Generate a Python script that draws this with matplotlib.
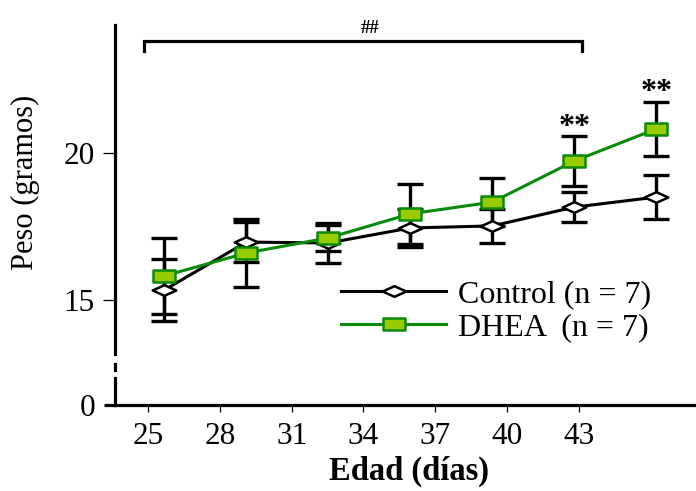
import matplotlib
matplotlib.use('Agg')
import matplotlib.pyplot as plt
from matplotlib.path import Path

plt.rcParams['font.family'] = ['Liberation Serif', 'DejaVu Serif']

# Datos
edad_ticks = [25, 28, 31, 34, 37, 40, 43]
edad_pts = [25.68, 29.11, 32.53, 35.96, 39.39, 42.82, 46.24]
control = [15.34, 16.97, 16.94, 17.45, 17.52, 18.16, 18.50]
control_err = [1.07, 0.68, 0.68, 0.65, 0.58, 0.51, 0.75]
dhea = [15.82, 16.60, 17.11, 17.93, 18.33, 19.73, 20.82]
dhea_err = [1.28, 1.16, 0.45, 1.02, 0.82, 0.85, 0.92]
signif_idx = [5, 6]

W, H = 696, 491
fig = plt.figure(figsize=(W / 100, H / 100), dpi=100)

# eje superior (15-24) y eje inferior (0) con corte
ax = fig.add_axes([115 / W, (H - 354) / H, 581 / W, 329 / H])
axb = fig.add_axes([115 / W, (H - 405) / H, 581 / W, 27 / H])

xlim = (23.62, 47.9)
for a in (ax, axb):
    a.set_xlim(*xlim)
    a.spines['top'].set_visible(False)
    a.spines['right'].set_visible(False)
    a.spines['left'].set_linewidth(2.3)
    a.patch.set_alpha(0)

ax.spines['bottom'].set_visible(False)
ax.set_ylim(13.163, 24.354)
ax.set_yticks([15, 20])
ax.set_yticklabels(['15', '20'])
ax.set_xticks([])
ax.tick_params(axis='y', length=8.5, width=0.9, pad=6, labelsize=22.5)

axb.set_ylim(0, 0.918)
axb.set_yticks([0])
axb.set_yticklabels(['0'])
axb.spines['bottom'].set_linewidth(2.3)
axb.set_xticks(edad_ticks)
axb.set_xticklabels([str(t) for t in edad_ticks])
axb.tick_params(axis='y', length=8, width=2.3, pad=6, labelsize=22.5)
axb.tick_params(axis='x', length=5, width=0.9, pad=7, labelsize=22.5)

# marca de corte del eje
fig.add_artist(plt.Line2D([115 / W, 115 / W], [(H - 364) / H, (H - 370) / H],
                          color='black', lw=2.3))

diamante = Path([(-1, 0), (0, 0.45), (1, 0), (0, -0.45), (-1, 0)],
                [Path.MOVETO, Path.LINETO, Path.LINETO, Path.LINETO, Path.CLOSEPOLY])
cuadro = Path([(-1, -0.55), (1, -0.55), (1, 0.55), (-1, 0.55), (-1, -0.55)],
              [Path.MOVETO, Path.LINETO, Path.LINETO, Path.LINETO, Path.CLOSEPOLY])

ax.errorbar(edad_pts, control, yerr=control_err, fmt='none', ecolor='black',
            elinewidth=2.4, capsize=9.4, capthick=2.4, zorder=1)
ax.errorbar(edad_pts, dhea, yerr=dhea_err, fmt='none', ecolor='black',
            elinewidth=2.4, capsize=9.4, capthick=2.4, zorder=1)

l1, = ax.plot(edad_pts, control, color='black', lw=2.2, marker=diamante,
              markersize=17, markerfacecolor='white', markeredgecolor='black',
              markeredgewidth=1.8, zorder=3)
l2, = ax.plot(edad_pts, dhea, color='#0a8a0a', lw=2.2, marker=cuadro,
              markersize=15.5, markerfacecolor='#99cc00', markeredgecolor='#0a8a0a',
              markeredgewidth=1.8, zorder=4)

for i in signif_idx:
    ax.annotate('**', (edad_pts[i], dhea[i] + dhea_err[i]), xytext=(0, -4),
                textcoords='offset points', ha='center', va='bottom',
                fontsize=23, fontweight='bold')

# corchete ##
ax.plot([24.85, 24.85, 43.15, 43.15], [23.47, 23.81, 23.81, 23.47],
        color='black', lw=2.3, clip_on=False, solid_joinstyle='miter')
ax.text(34.3, 23.95, '##', ha='center', va='bottom', fontsize=13.5,
        fontweight='bold', clip_on=False)

ax.legend([l1, l2], ['Control (n = 7)', 'DHEA  (n = 7)'], loc='upper left',
          bbox_to_anchor=(341 / W, (H - 280) / H), bbox_transform=fig.transFigure,
          frameon=False, fontsize=23, handlelength=3.3, handletextpad=0.35,
          labelspacing=0.12, borderpad=0, borderaxespad=0, numpoints=1)

fig.text(25 / W, 1 - 182 / H, 'Peso (gramos)', rotation=90, ha='center',
         va='center', fontsize=22)
fig.text(409 / W, 1 - 471 / H, 'Edad (días)', ha='center', va='center',
         fontsize=23.5, fontweight='bold')

fig.savefig('out.png', dpi=100)
